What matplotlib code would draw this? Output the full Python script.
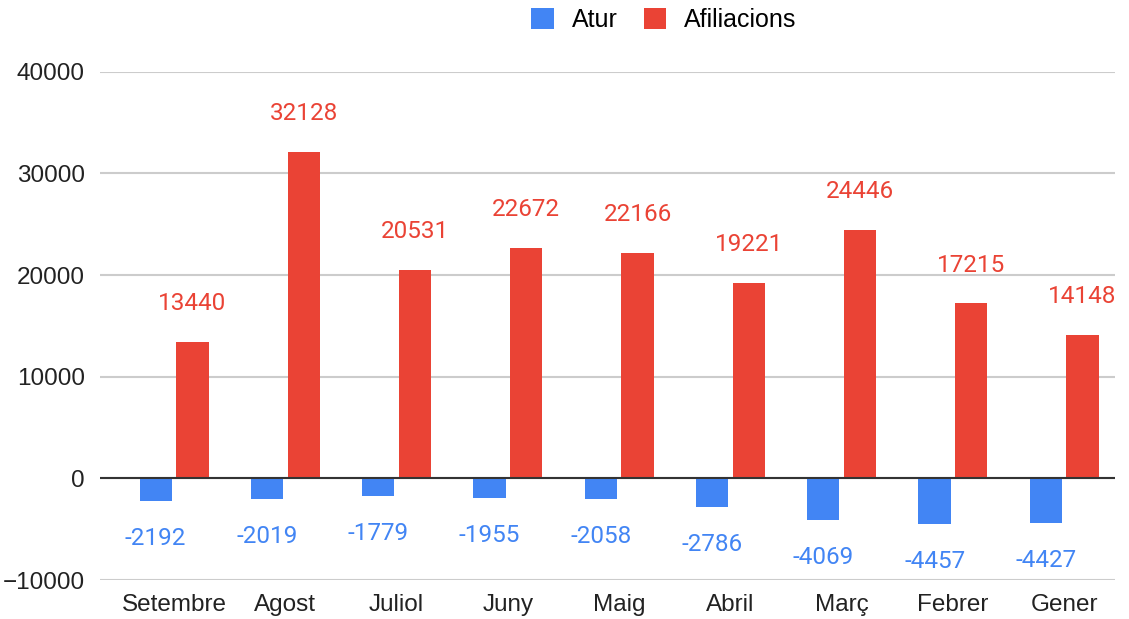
import numpy as np
import matplotlib.pyplot as plt

# data
months = ['Setembre', 'Agost', 'Juliol', 'Juny', 'Maig', 'Abril', 'Març', 'Febrer', 'Gener']
atur = [-2192, -2019, -1779, -1955, -2058, -2786, -4069, -4457, -4427]
afiliacions = [13440, 32128, 20531, 22672, 22166, 19221, 24446, 17215, 14148]

blue = '#4285F4'
red = '#EA4335'

fig = plt.figure(figsize=(11.29, 6.19), dpi=100)
ax = fig.add_axes([0.0886, 0.063, 0.8994, 0.821])

x = np.arange(len(months))
w = 0.29
b1 = ax.bar(x - 0.165, atur, w, color=blue, label='Atur', zorder=3)
b2 = ax.bar(x + 0.165, afiliacions, w, color=red, label='Afiliacions', zorder=3)

# data labels
for xi, v in zip(x - 0.165, atur):
    ax.annotate(str(v), (xi, v), xytext=(0, -27), textcoords='offset points',
                ha='center', va='center', color=blue, fontsize=17.5, family='Roboto')
for xi, v in zip(x + 0.165, afiliacions):
    ax.annotate(str(v), (xi, v), xytext=(0, 27.5), textcoords='offset points',
                ha='center', va='center', color=red, fontsize=17.5, family='Roboto')

ax.set_ylim(-10000, 40000)
ax.set_xlim(-0.665, 8.46)
ax.set_yticks(range(-10000, 40001, 10000))
ax.set_xticks(x)
ax.set_xticklabels(months)
ax.tick_params(length=0, labelsize=17.5, colors='#222222', labelfontfamily='Liberation Sans')
ax.tick_params(axis='y', pad=11)
ax.tick_params(axis='x', pad=10)
ax.grid(axis='y', color='#cccccc', linewidth=1.5, zorder=0)
ax.axhline(0, color='#333333', linewidth=1.5, zorder=4)
for s in ax.spines.values():
    s.set_visible(False)

fig.legend(handles=[b1, b2], loc='center', bbox_to_anchor=(0.588, 0.967), ncol=2,
           frameon=False, prop={'family': 'Liberation Sans', 'size': 18},
           handlelength=0.9, handleheight=0.9, handletextpad=0.72, columnspacing=1.05)

fig.savefig('out.png', dpi=100)
